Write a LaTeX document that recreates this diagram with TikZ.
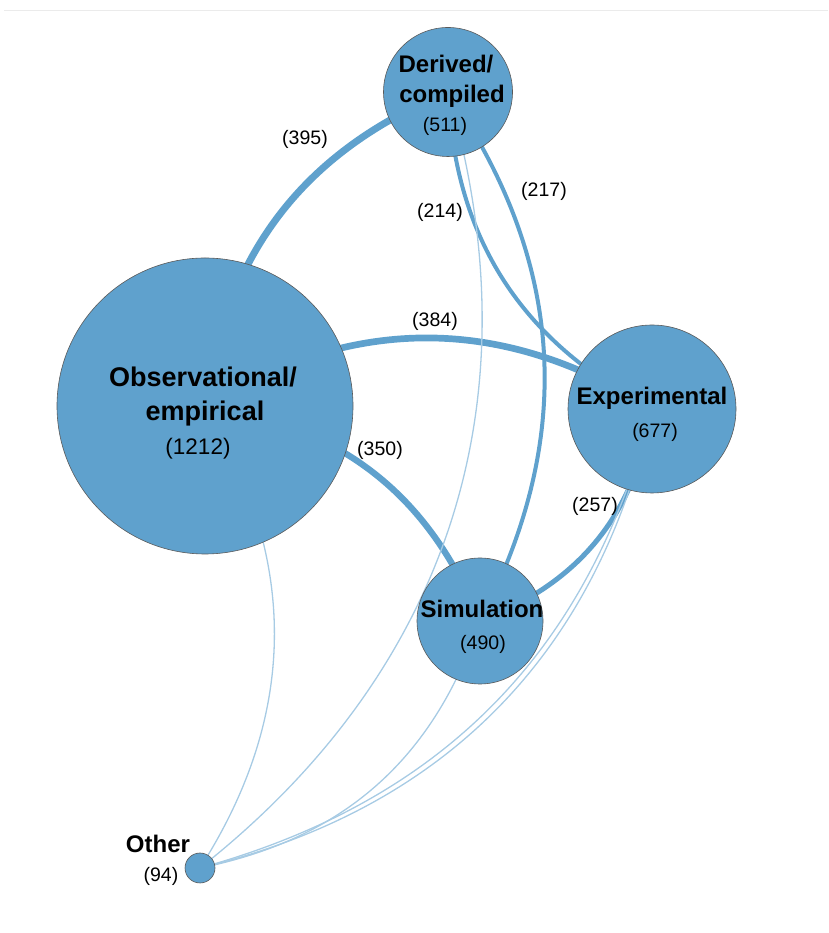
\documentclass[tikz,border=0pt]{standalone}
\usepackage{fontspec}
\setmainfont{Liberation Sans}
\usetikzlibrary{backgrounds}
\definecolor{nodeblue}{RGB}{95,161,205}
\colorlet{thinblue}{nodeblue!55}
\begin{document}
\begin{tikzpicture}[x=1pt,y=1pt,
  circ/.style={circle,fill=nodeblue,draw=black!65,line width=0.6pt,inner sep=0pt},
  catlbl/.style={font=\fontsize{24}{28}\selectfont\bfseries,anchor=base,inner sep=0pt},
  bigcat/.style={font=\fontsize{27}{32}\selectfont\bfseries,anchor=base,inner sep=0pt},
  countlbl/.style={font=\fontsize{19.5}{23}\selectfont,anchor=base,inner sep=0pt},
  link/.style={draw=nodeblue,line cap=round},
  faint/.style={draw=thinblue,line width=1.3pt}]
\useasboundingbox (0,0) rectangle (828,933);
\draw[black!8,line width=0.8pt] (4,923) -- (828,923);

\node[circ,minimum size=296pt] (c1) at (205,527) {};
\node[circ,minimum size=129pt] (c2) at (448,841) {};
\node[circ,minimum size=168pt] (c3) at (652,524) {};
\node[circ,minimum size=126pt] (c4) at (480,312) {};
\node[circ,minimum size=30pt] (c5) at (200,65) {};

\begin{pgfonlayer}{background}
\draw[link,line width=7pt] (c1.center) to[bend left=30] (c2.center);
\draw[link,line width=6.7pt] (c1.center) to[bend left=32] (c3.center);
\draw[link,line width=6.3pt] (c1.center) to[bend left=30] (c4.center);
\draw[link,line width=4pt] (c3.center) to[bend left=30] (c2.center);
\draw[link,line width=4pt] (c2.center) to[bend left=31] (c4.center);
\draw[link,line width=5pt] (c3.center) to[bend left=30] (c4.center);
\draw[faint] (c1.center) to[bend left=32] (c5.center);
\draw[faint] (c2.center) to[bend left=34] (c5.center);
\draw[faint] (c4.center) to[bend left=30] (c5.center);
\draw[faint] (c3.center) to[bend left=32] (c5.center);
\draw[faint] (c3.center) to[bend left=30] (c5.center);
\end{pgfonlayer}

\node[bigcat] (t1) at (203,546) {Observational/}; \node[bigcat] (t2) at (205,512) {empirical};
\node[countlbl,font=\fontsize{22.5}{27}\selectfont] (n1) at (198,478) {(1212)};
\node[catlbl] (t3) at (446,860) {Derived/}; \node[catlbl] (t4) at (452,830) {compiled};
\node[countlbl] (n2) at (445,801) {(511)};
\node[catlbl] (t5) at (652,528) {Experimental}; \node[countlbl] (n3) at (655,495) {(677)};
\node[catlbl] (t6) at (482,315) {Simulation}; \node[countlbl] (n4) at (483,283) {(490)};
\node[catlbl] (t7) at (158,80) {Other}; \node[countlbl] (n5) at (161,51) {(94)};

\node[countlbl] (e1) at (305,788) {(395)};
\node[countlbl] (e2) at (440,715) {(214)};
\node[countlbl] (e3) at (544,736) {(217)};
\node[countlbl] (e4) at (435,606) {(384)};
\node[countlbl] (e5) at (380,477) {(350)};
\node[countlbl] (e6) at (595,421) {(257)};
\end{tikzpicture}
\end{document}
